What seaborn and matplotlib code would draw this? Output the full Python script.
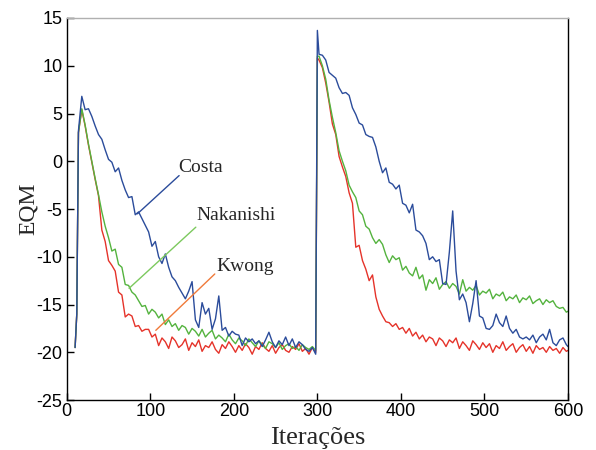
import numpy as np
import pandas as pd
import matplotlib
matplotlib.use("Agg")
import matplotlib.pyplot as plt
import seaborn as sns

# iteration axis: start of run, first block (step 4), reset at 300, second block
it_start = [10, 12, 14]
it_block1 = list(range(18, 299, 4))
it_reset = [300]
it_block2 = list(range(302, 599, 4)) + [600]

# Costa (blue)
costa_start = [-19.5, -16.0, 3.2]
costa_b1 = [6.8, 5.4, 5.5, 4.7, 3.7, 2.8, 2.3, 1.2, 0.2, -0.1,
            -1.1, -0.7, -2.0, -3.0, -3.8, -3.7, -5.6, -5.3, -6.0, -6.7,
            -7.4, -8.9, -8.4, -10.0, -10.7, -9.7, -11.1, -12.1, -12.5, -13.2,
            -13.8, -14.4, -13.6, -12.6, -16.6, -17.4, -14.8, -16.0, -15.4, -17.6,
            -16.5, -14.1, -17.7, -17.4, -18.3, -17.8, -18.1, -18.2, -19.3, -18.5,
            -18.9, -18.6, -19.1, -18.8, -19.4, -18.7, -17.9, -18.9, -19.5, -18.8,
            -19.2, -18.4, -19.3, -18.6, -19.5, -18.9, -19.2, -19.7, -19.9, -19.5,
            -20.2]
costa_reset = [13.7]
costa_b2 = [11.2, 11.1, 10.6, 9.3, 9.0, 8.7, 7.7, 7.1, 7.2, 6.9,
            5.6, 4.9, 4.0, 3.8, 2.8, 2.6, 2.5, 1.5, 0.0, -1.2,
            -0.7, -2.2, -2.4, -2.9, -2.5, -4.4, -4.6, -5.4, -4.5, -7.2,
            -7.4, -7.8, -8.6, -10.3, -10.0, -10.5, -10.3, -12.8, -12.9, -9.5,
            -5.2, -11.5, -14.5, -13.9, -14.8, -16.8, -14.9, -12.5, -16.2, -16.4,
            -17.5, -17.6, -17.2, -16.0, -16.9, -17.3, -16.2, -17.5, -18.0, -17.6,
            -18.4, -18.6, -18.4, -18.7, -18.2, -19.0, -18.4, -18.1, -18.7, -17.6,
            -19.0, -19.3, -18.7, -18.5, -19.2, -19.4]

# Nakanishi (green)
naka_start = [-19.5, -16.0, 3.0]
naka_b1 = [5.5, 3.8, 1.8, 0.0, -1.8, -3.5, -5.3, -6.8, -8.0, -9.4,
           -9.2, -10.8, -11.1, -12.9, -13.0, -13.7, -14.0,
           -14.6, -15.2, -15.1, -16.0, -15.5, -15.8, -16.4, -16.0, -17.1, -16.6,
           -17.3, -17.0, -17.7, -17.2, -17.4, -18.1, -17.5, -17.8, -18.3, -17.6,
           -18.4, -18.0, -17.7, -18.6, -18.2, -18.5, -18.9, -18.1, -18.7, -19.1,
           -18.5, -18.8, -19.3, -18.6, -19.0, -19.4, -18.8, -19.2, -19.6, -18.9,
           -19.1, -19.5, -19.0, -19.7, -19.3, -19.1, -19.6, -19.4, -19.8, -19.2,
           -19.5, -19.7, -19.4, -19.8]
naka_reset = [11.0]
naka_b2 = [11.0, 10.0, 8.6, 6.4, 4.6, 3.0, 1.1, 0.0, -1.0, -2.5,
           -3.2, -3.8, -5.2, -5.6, -6.8, -7.1, -8.0, -8.6, -8.2, -8.7,
           -9.8, -10.6, -9.9, -10.3, -10.1, -11.4, -11.0, -11.7, -12.0, -11.1,
           -12.3, -11.9, -13.5, -12.4, -12.8, -12.2, -13.4, -12.9, -12.6, -13.3,
           -12.8, -13.1, -13.9, -12.4, -13.6, -13.2, -13.5, -13.0, -14.0, -13.6,
           -13.8, -13.4, -14.4, -13.9, -14.1, -13.7, -14.6, -14.2, -14.4, -14.0,
           -14.8, -14.3, -14.5, -14.1, -14.9, -14.6, -14.4, -15.0, -14.5, -14.8,
           -14.6, -15.2, -15.4, -15.3, -15.8, -15.7]

# Kwong (red)
kwong_start = [-19.5, -16.0, 3.0]
kwong_b1 = [5.4, 3.7, 1.7, -0.1, -1.9, -3.6, -7.2, -8.4, -10.4, -10.9,
            -11.5, -13.7, -14.0, -16.3, -16.0, -16.2, -17.3, -17.2, -17.8, -17.6,
            -17.6, -18.4, -18.1, -19.3, -18.5, -18.9, -19.6, -18.4, -18.8, -19.5,
            -19.2, -18.6, -19.8, -19.0, -19.4, -18.7, -19.9, -19.3, -19.5, -18.9,
            -19.7, -20.1, -19.2, -19.6, -18.9, -19.4, -20.0, -19.3, -19.8, -19.1,
            -19.5, -20.2, -19.4, -19.7, -19.0, -19.6, -19.9, -19.3, -20.1, -19.5,
            -19.2, -19.8, -20.0, -19.4, -19.7, -19.1, -19.9, -19.6, -20.2, -19.5,
            -20.0]
kwong_reset = [10.8]
kwong_b2 = [10.6, 9.8, 8.2, 6.2, 3.9, 2.8, 0.5, -0.6, -1.6, -3.3,
            -4.4, -9.0, -8.8, -10.4, -11.3, -12.5, -11.9, -14.2, -15.5, -16.2,
            -16.8, -16.9, -17.3, -17.0, -17.6, -17.4, -18.0,
            -17.5, -18.3, -17.9, -18.6, -18.2, -18.9, -18.4, -18.6, -19.3, -18.5,
            -18.8, -19.4, -18.7, -19.0, -18.5, -19.6, -18.9, -19.3, -19.8, -18.8,
            -19.2, -19.7, -19.0, -19.5, -19.1, -20.0, -19.3, -19.6, -18.9, -19.8,
            -19.4, -19.1, -20.0, -19.5, -19.2, -19.9, -19.4, -20.1, -19.3, -19.7,
            -19.5, -20.0, -19.4, -19.8, -19.6, -20.1, -19.5, -19.9, -19.8]

iters = it_start + it_block1 + it_reset + it_block2
series = {
    "Kwong": kwong_start + kwong_b1 + kwong_reset + kwong_b2,
    "Nakanishi": naka_start + naka_b1 + naka_reset + naka_b2,
    "Costa": costa_start + costa_b1 + costa_reset + costa_b2,
}

frames = []
for name, vals in series.items():
    frames.append(pd.DataFrame({"Iteracoes": iters, "EQM": vals, "metodo": name}))
df = pd.concat(frames, ignore_index=True)

blue = "#2b4c9b"
green = "#54b33e"
red = "#e5332a"
orange = "#f07a3a"
palette = {"Kwong": red, "Nakanishi": green, "Costa": blue}

sns.set_style("ticks")
plt.rcParams["font.family"] = ["Liberation Sans", "DejaVu Sans"]
plt.rcParams["axes.unicode_minus"] = False

fig, ax = plt.subplots(figsize=(5.96, 4.5), dpi=100)
fig.subplots_adjust(left=0.112, right=0.953, top=0.96, bottom=0.111)

sns.lineplot(data=df, x="Iteracoes", y="EQM", hue="metodo",
             hue_order=["Kwong", "Nakanishi", "Costa"], palette=palette,
             estimator=None, sort=False, linewidth=1.0, legend=False, ax=ax)

ax.set_xlim(0, 600)
ax.set_ylim(-25, 15)
ax.set_xticks(range(0, 601, 100))
ax.set_yticks(range(-25, 16, 5))
ax.tick_params(direction="in", length=5, width=1, labelsize=13, colors="black")
ax.tick_params(axis="x", pad=2)
ax.tick_params(axis="y", pad=3)
for s in ax.spines.values():
    s.set_visible(True)
    s.set_color("black")
    s.set_linewidth(1)
ax.spines["top"].set_color("#b0b0b0")

serif = ["Liberation Serif", "DejaVu Serif"]
ax.set_xlabel("Iterações", family=serif, fontsize=19, labelpad=5)
ax.set_ylabel("EQM", family=serif, fontsize=17)
ax.yaxis.set_label_coords(-0.055, 0.5)

# labels with leader lines
ax.plot([134.5, 84.6], [-1.5, -5.5], color=blue, lw=1)
ax.text(133, -0.7, "Costa", family=serif, fontsize=14, va="center", ha="left")
ax.plot([154.5, 74.6], [-6.9, -13.3], color="#7cc95e", lw=1)
ax.text(155.5, -5.7, "Nakanishi", family=serif, fontsize=14, va="center", ha="left")
ax.plot([177.2, 106.6], [-11.8, -17.7], color=orange, lw=1)
ax.text(179.5, -11.0, "Kwong", family=serif, fontsize=14, va="center", ha="left")

plt.savefig("out.png", dpi=100)
